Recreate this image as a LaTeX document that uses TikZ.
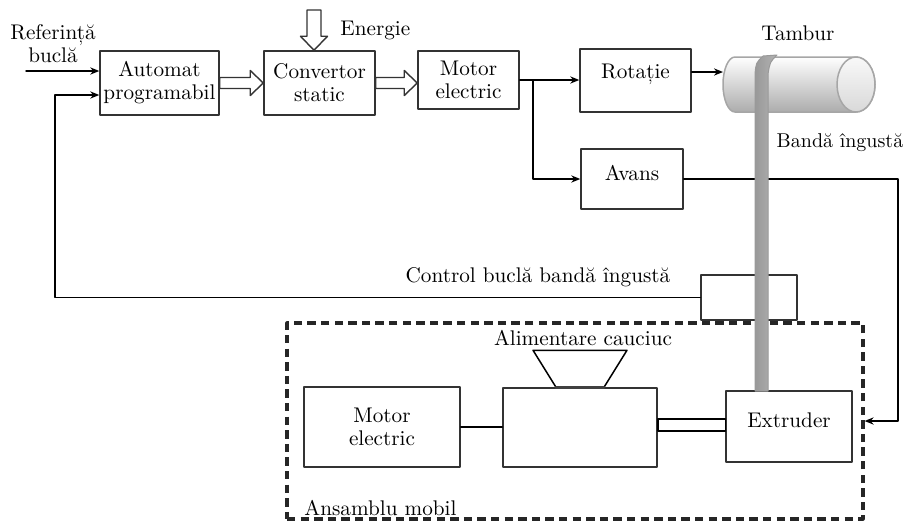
\documentclass[tikz,border=0pt]{standalone}
\usepackage{fontspec}
\usetikzlibrary{arrows.meta,calc}

\begin{document}
\begin{tikzpicture}[x=0.5pt, y=-0.5pt, >={Stealth[length=4.5pt,width=3.6pt]}, line width=0.75pt, line cap=round, line join=round, font=\fontsize{10.6}{11.5}\selectfont]

    % Stili
    \tikzset{block/.style={draw=black!80, fill=white, rectangle, inner sep=0pt, align=center},
             toptext/.style={text height=8pt, text depth=10pt},
             hollow/.style={draw=black!80, fill=white, line width=0.7pt},
             belt/.style={draw=gray!80, left color=gray!80, middle color=gray!35, right color=gray!60, line width=0.5pt}}

    \useasboundingbox (0,0) rectangle (905,525);

    % Ansamblu mobil (dreptunghi punctat)
    \node[draw=black!85, line width=1.6pt, dash pattern=on 4.2pt off 2.6pt, line cap=butt, minimum width=288pt, minimum height=98pt] (mobil) at (575,421) {};

    % Blocuri principale
    \node[block, minimum width=59.5pt, minimum height=32pt] (auto) at (159.5,83) {Automat\\programabil};
    \node[block, minimum width=55.5pt, minimum height=32pt] (conv) at (319.5,83) {Convertor\\static};
    \node[block, minimum width=50.5pt, minimum height=29pt] (motor) at (468.5,80) {Motor\\electric};
    \node[block, toptext, minimum width=55.5pt, minimum height=31.5pt] (rot) at (635.5,80.5) {Rotație};
    \node[block, text height=8pt, text depth=7pt, minimum width=51pt, minimum height=30pt] (avans) at (632,179) {Avans};
    \node[block, minimum width=48pt, minimum height=22.5pt] (ctrl) at (749,297.5) {};

    % Blocuri din ansamblul mobil
    \node[block, minimum width=78pt, minimum height=40pt] (motor2) at (382,427) {Motor\\electric};
    \node[block, minimum width=77pt, minimum height=39.5pt] (mid) at (580,427.5) {};
    \node[block, text height=8pt, text depth=7pt, minimum width=63pt, minimum height=35.5pt] (extr) at (789,426.5) {Extruder};

    % Texte
    \node[align=center] (reftxt) at (53,44) {Referință\\buclă};
    \node[anchor=west] (entxt) at (333,30) {Energie};
    \node (tambtxt) at (798,33) {Tambur};
    \node[anchor=east, inner sep=0pt, font=\fontsize{10}{11.5}\selectfont] (bandtxt) at (904,143) {Bandă îngustă};
    \node (ctrltxt) at (538,277) {Control buclă bandă îngustă};
    \node (alimtxt) at (583,338) {Alimentare cauciuc};
    \node[anchor=west] (mobtxt) at (297,508) {Ansamblu mobil};

    % Puncte ajutatoare
    \coordinate (refin) at (26,71);
    \coordinate (fb) at (55,95);
    \coordinate (br) at ($(motor.east)+(13,0)$);
    \coordinate (tamb) at (723,72);
    \coordinate (av) at (898,421);
    \coordinate (en) at (314,10);

    % Sageti de putere (goale)
    \draw[hollow] let \p1=(auto.east), \p2=(conv.west) in
        (\x1,\y1+2.75pt) -- (\x2-6.5pt,\y1+2.75pt) -- (\x2-6.5pt,\y1+6.25pt) -- (\x2,\y1)
        -- (\x2-6.5pt,\y1-6.25pt) -- (\x2-6.5pt,\y1-2.75pt) -- (\x1,\y1-2.75pt) -- cycle;
    \draw[hollow] let \p1=(conv.east), \p2=(motor.west) in
        (\x1,\y1+2.75pt) -- (\x2-6.5pt,\y1+2.75pt) -- (\x2-6.5pt,\y1+6.25pt) -- (\x2,\y1)
        -- (\x2-6.5pt,\y1-6.25pt) -- (\x2-6.5pt,\y1-2.75pt) -- (\x1,\y1-2.75pt) -- cycle;
    \draw[hollow] let \p1=(en), \p2=(en |- conv.north) in
        (\x1-3.5pt,\y1) -- (\x1-3.5pt,\y2+7pt) -- (\x1-6.75pt,\y2+7pt) -- (\x2,\y2)
        -- (\x1+6.75pt,\y2+7pt) -- (\x1+3.5pt,\y2+7pt) -- (\x1+3.5pt,\y1) -- cycle;

    % Legaturi
    \draw[->] (refin) -- (refin -| auto.west);
    \draw[->] (ctrl.west) -| (fb) -- (fb -| auto.west);
    \draw[->] (motor.east) -- (motor.east -| rot.west);
    \draw[->] (br) |- (avans.west);
    \draw[->] (tamb -| rot.east) -- (tamb);
    \draw[->] (avans.east) -| (av) -- (mobil.east);
    \draw (motor2.east) -- (motor2.east -| mid.west);

    % Ax intre corp si extruder
    \draw[fill=white] ($(mid.east)+(0,-8.5)$) rectangle ($(mid.east -| extr.west)+(0,3.5)$);

    % Palnie de alimentare
    \draw[fill=white] ($(mid.north)+(-24,0)$) -- ($(mid.north)+(-47,-37)$) -- ($(mid.north)+(47,-37)$) -- ($(mid.north)+(24,0)$);
    \draw[line width=1.6pt, black!75] ($(mid.north)+(-24,0)$) -- ($(mid.north)+(24,0)$);

    % Tambur
    \draw[draw=gray!70, top color=white, bottom color=gray!65] (856,57) -- (735,57)
        arc[start angle=270, end angle=90, x radius=12, y radius=27.5] -- (856,112)
        arc[start angle=90, end angle=-90, x radius=19, y radius=27.5] -- cycle;
    \draw[draw=gray!70, top color=gray!5, bottom color=gray!30] (856,84.5) ellipse[x radius=19, y radius=27.5];

    % Banda ingusta
    \draw[belt] (755,391) -- (755,74) .. controls (756,63) .. (763,56) -- (777,55)
        .. controls (770,62) .. (768,74) -- (768,391) -- cycle;

\end{tikzpicture}
\end{document}
